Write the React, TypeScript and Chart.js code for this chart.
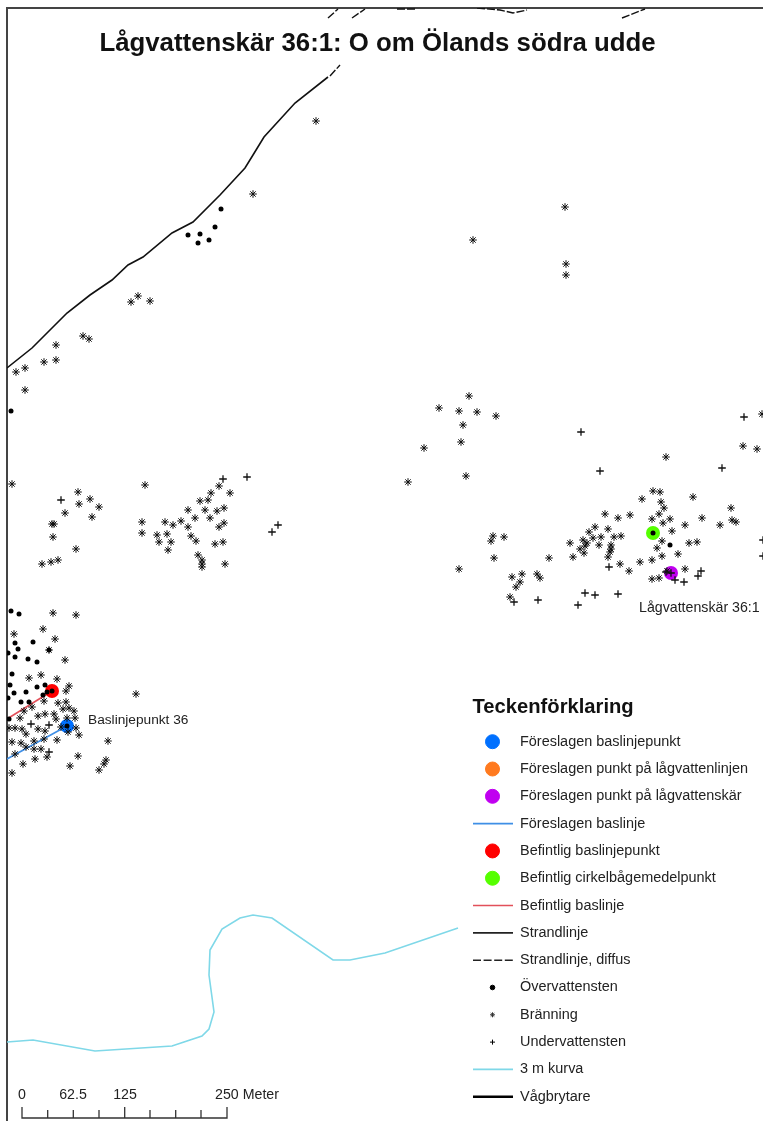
import React, { useEffect, useRef } from "react";
import { Chart, registerables } from "chart.js";
import { drawPoint } from "chart.js/helpers";

Chart.register(...registerables);

type P = [number, number];

const titleText = "Lågvattenskär 36:1: O om Ölands södra udde";
const legendTitle = "Teckenförklaring";
const scaleLabels: [string, number][] = [["0", 22], ["62.5", 73], ["125", 125], ["250 Meter", 247]];

const legendItems = [
  { label: "Föreslagen baslinjepunkt", kind: "dot", color: "#0070ff" },
  { label: "Föreslagen punkt på lågvattenlinjen", kind: "dot", color: "#ff7a1f" },
  { label: "Föreslagen punkt på lågvattenskär", kind: "dot", color: "#c000f0" },
  { label: "Föreslagen baslinje", kind: "line", color: "#3f8fe6" },
  { label: "Befintlig baslinjepunkt", kind: "dot", color: "#ff0000" },
  { label: "Befintlig cirkelbågemedelpunkt", kind: "dot", color: "#55ff00" },
  { label: "Befintlig baslinje", kind: "line", color: "#e2505a" },
  { label: "Strandlinje", kind: "line", color: "#222222" },
  { label: "Strandlinje, diffus", kind: "dash", color: "#222222" },
  { label: "Övervattensten", kind: "stone", color: "#000000" },
  { label: "Bränning", kind: "star", color: "#333333" },
  { label: "Undervattensten", kind: "cross", color: "#000000" },
  { label: "3 m kurva", kind: "line", color: "#7fd8e8" },
  { label: "Vågbrytare", kind: "thick", color: "#000000" },
];

const shoreline: P[] = [[7,368],[32,348],[55,325],[67,313],[90,295],[112,280],[128,265],[143,257],[172,233],[193,222],[220,195],[245,168],[253,155],[264,137],[295,103],[328,77]];
const diffuseSegments: P[][] = [
  [[330,76],[340,65]],
  [[328,18],[338,9]],
  [[352,18],[365,9]],
  [[397,9],[417,9]],
  [[477,8],[500,10],[513,13],[527,10]],
  [[622,18],[645,9]],
];
const contour3m: P[] = [[7,1042],[33,1040],[95,1051],[172,1046],[202,1036],[209,1029],[214,1012],[209,975],[210,950],[222,929],[240,918],[253,915],[272,918],[333,960],[350,960],[385,953],[458,928]];
const existingBaseline: P[] = [[52,691],[7,719]];
const proposedBaseline: P[] = [[67,726],[7,759]];

const proposedPoint: P[] = [[67,726]];
const reefPoint: P[] = [[671,573]];
const existingPoint: P[] = [[52,691]];
const arcCentre: P[] = [[653,533]];

const aboveWater: P[] = [
  [221,209],[215,227],[200,234],[188,235],[198,243],[209,240],[11,411],
  [11,611],[19,614],[15,643],[33,642],[18,649],[49,650],[15,657],[28,659],[37,662],[8,653],[12,674],[10,685],
  [37,687],[45,685],[14,693],[26,692],[43,695],[47,692],[52,691],[21,702],[29,702],[9,719],[67,726],[8,698],
  [653,533],[670,545],
];
const breakers: P[] = [
  [316,121],[253,194],[131,302],[138,296],[150,301],[83,336],[89,339],[56,345],[44,362],[56,360],[16,372],[25,368],[25,390],
  [12,484],[78,492],[90,499],[79,504],[99,507],[65,513],[92,517],[52,524],[54,524],[53,537],[76,549],[42,564],[51,562],[58,560],
  [145,485],[142,522],[142,533],[165,522],[173,525],[181,521],[188,527],[195,518],[188,510],[200,501],[208,500],[211,493],[219,486],[230,493],[205,510],[217,511],[224,508],[210,518],[224,523],[219,527],[157,535],[167,534],[159,542],[171,542],[168,550],[191,536],[196,541],[215,544],[223,542],[198,555],[202,560],[202,564],[202,567],[225,564],
  [53,613],[76,615],[43,629],[14,634],[55,639],[65,660],[29,678],[41,675],[57,679],[69,686],[66,691],[49,650],[44,701],[58,703],[66,702],[63,709],[69,708],[74,711],[32,707],[24,711],[20,718],[38,716],[45,714],[54,714],[56,719],[75,718],[67,718],[9,728],[15,728],[22,729],[26,734],[38,729],[45,731],[61,727],[76,728],[79,735],[68,732],[57,740],[44,739],[34,741],[21,743],[12,742],[26,747],[34,749],[41,749],[47,757],[35,759],[15,754],[23,764],[12,773],[70,766],[78,756],[108,741],[136,694],[106,760],[104,764],[99,770],
  [469,396],[439,408],[459,411],[477,412],[496,416],[463,425],[461,442],[424,448],[466,476],[408,482],[762,414],[743,446],[757,449],[666,457],[653,491],[660,492],[642,499],[693,497],[661,502],[664,508],[731,508],[659,514],[652,519],[670,519],[663,523],[605,514],[618,518],[630,515],[685,525],[702,518],[720,525],[732,520],[736,522],[672,531],[595,527],[608,529],[589,532],[601,537],[614,537],[621,536],[593,538],[583,540],[587,543],[599,545],[570,543],[585,546],[580,549],[584,553],[573,557],[611,545],[611,549],[610,552],[608,557],[662,541],[657,548],[689,543],[697,542],[662,556],[678,554],[652,560],[640,562],[620,564],[629,571],[685,569],[667,571],[652,579],[659,578],[493,536],[504,537],[491,541],[494,558],[549,558],[459,569],[522,574],[537,574],[540,578],[512,577],[520,582],[516,587],[510,597],
  [565,207],[473,240],[566,264],[566,275],
];
const underWater: P[] = [
  [61,500],[223,479],[247,477],[278,525],[272,532],[49,725],[31,724],[49,752],
  [744,417],[581,432],[600,471],[722,468],[609,567],[671,573],[675,580],[684,582],[698,576],[701,571],[585,593],[595,595],[618,594],[514,602],[538,600],[578,605],[763,540],[763,556],[666,572],
];
const scaleBar: P[] = [[22,1107],[22,1118],[47.7,1118],[47.7,1110],[47.7,1118],[73.3,1118],[73.3,1110],[73.3,1118],[99,1118],[99,1110],[99,1118],[124.7,1118],[124.7,1107],[124.7,1118],[150,1118],[150,1110],[150,1118],[175.7,1118],[175.7,1110],[175.7,1118],[201,1118],[201,1110],[201,1118],[227,1118],[227,1107]];

const xy = (a: P[]) => a.map(([x, y]) => ({ x, y }));

const textPlugin = {
  id: "mapText",
  afterDatasetsDraw(chart: any) {
    const c = chart.ctx as CanvasRenderingContext2D;
    const X = chart.scales.x, Y = chart.scales.y;
    const px = (v: number) => X.getPixelForValue(v);
    const py = (v: number) => Y.getPixelForValue(v);
    const sans = '"Liberation Sans", Arial, sans-serif';
    c.save();
    c.textBaseline = "middle";
    c.textAlign = "center";
    c.fillStyle = "#111";
    c.font = `bold 25.8px ${sans}`;
    c.fillText(titleText, px(377.5), py(44));
    c.textAlign = "left";
    c.fillStyle = "#222";
    c.font = `13.7px ${sans}`;
    c.fillText("Baslinjepunkt 36", px(88), py(720));
    c.font = `14.2px ${sans}`;
    c.fillText("Lågvattenskär 36:1", px(639), py(608));
    c.textAlign = "center";
    scaleLabels.forEach(([t, x]) => c.fillText(t, px(x), py(1095)));
    c.textAlign = "left";
    c.fillStyle = "#111";
    c.font = `bold 20.2px ${sans}`;
    c.fillText(legendTitle, px(472.5), py(707));
    legendItems.forEach((it, i) => {
      const y = py(741.7 + i * 27.31);
      c.fillStyle = "#222";
      c.font = `14.45px ${sans}`;
      c.fillText(it.label, px(520), y);
      const cx = px(492.5);
      c.strokeStyle = it.color;
      c.fillStyle = it.color;
      if (it.kind === "line" || it.kind === "dash" || it.kind === "thick") {
        c.beginPath();
        c.lineWidth = it.kind === "thick" ? 2.5 : 1.6;
        c.setLineDash(it.kind === "dash" ? [8, 2.6] : []);
        c.moveTo(px(473), y);
        c.lineTo(px(513), y);
        c.stroke();
        c.setLineDash([]);
      } else {
        const style = it.kind === "star" ? "star" : it.kind === "cross" ? "cross" : "circle";
        const radius = it.kind === "dot" ? 7 : it.kind === "stone" ? 2.3 : 2.5;
        c.lineWidth = 1;
        drawPoint(c, { pointStyle: style, rotation: 0, radius, borderWidth: 1 } as any, cx, y);
      }
    });
    c.restore();
  },
};

export default function App() {
  const ref = useRef<HTMLCanvasElement | null>(null);
  useEffect(() => {
    document.body.style.margin = "0";
    const line = (label: string, data: P[], color: string, width: number, order: number, dash: number[] = []) => ({
      type: "line" as const, label, data: xy(data), borderColor: color, borderWidth: width, borderDash: dash,
      pointRadius: 0, tension: 0, order, fill: false,
    });
    const pts = (label: string, data: P[], style: string, radius: number, color: string, order: number, bw = 1) => ({
      type: "scatter" as const, label, data: xy(data), pointStyle: style, pointRadius: radius,
      backgroundColor: color, borderColor: color, borderWidth: bw, order,
    });
    const chart = new Chart(ref.current!, {
      type: "scatter",
      data: {
        datasets: [
          pts("Övervattensten", aboveWater, "circle", 2.5, "#000000", 1, 0),
          pts("Undervattensten", underWater, "cross", 3.8, "#111111", 2, 1.3),
          pts("Bränning", breakers, "star", 3.8, "#111111", 3, 1),
          pts("Föreslagen baslinjepunkt", proposedPoint, "circle", 7, "#0070ff", 4, 0),
          pts("Föreslagen punkt på lågvattenskär", reefPoint, "circle", 7, "#c000f0", 4, 0),
          pts("Befintlig baslinjepunkt", existingPoint, "circle", 7, "#ff0000", 4, 0),
          pts("Befintlig cirkelbågemedelpunkt", arcCentre, "circle", 7, "#55ff00", 4, 0),
          line("Föreslagen baslinje", proposedBaseline, "#3f8fe6", 1.6, 5),
          line("Befintlig baslinje", existingBaseline, "#e2505a", 1.6, 5),
          line("Strandlinje", shoreline, "#111111", 1.6, 6),
          ...diffuseSegments.map((s) => line("Strandlinje, diffus", s, "#111111", 1.4, 6, [8, 2])),
          line("3 m kurva", contour3m, "#7fd8e8", 1.6, 7),
          line("Skala", scaleBar, "#333333", 1.3, 7),
        ] as any,
      },
      options: {
        animation: false,
        responsive: false,
        devicePixelRatio: 1,
        layout: { autoPadding: false, padding: { left: 7, top: 8, right: 0, bottom: 0 } },
        plugins: { legend: { display: false }, title: { display: false }, tooltip: { enabled: false } },
        scales: {
          x: {
            type: "linear", min: 7, max: 763, position: "top",
            grid: { display: false, drawTicks: false },
            ticks: { display: false, padding: 0 },
            border: { display: true, color: "#444444", width: 2 },
          },
          y: {
            type: "linear", min: 8, max: 1121, reverse: true, position: "left",
            grid: { display: false, drawTicks: false },
            ticks: { display: false, padding: 0 },
            border: { display: true, color: "#444444", width: 2 },
          },
        },
      },
      plugins: [textPlugin],
    } as any);
    return () => chart.destroy();
  }, []);
  return <canvas ref={ref} width={763} height={1121} style={{ display: "block", filter: "blur(0.35px)" }} />;
}
